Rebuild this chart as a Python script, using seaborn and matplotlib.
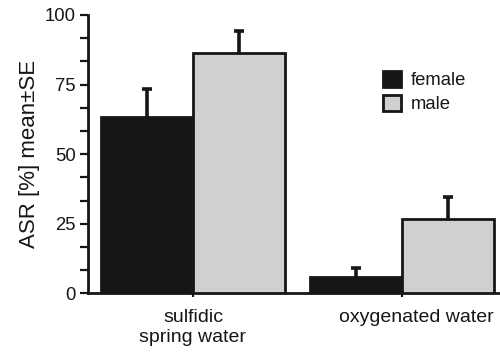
import matplotlib
matplotlib.use("Agg")
import matplotlib.pyplot as plt
import matplotlib.transforms as mtransforms
from matplotlib.patches import Patch
import seaborn as sns
import pandas as pd
import numpy as np

# ---- data ----
conditions = ["sulfidic\nspring water", "oxygenated water"]
sexes = ["female", "male"]
female_mean = [63.5, 5.7]
male_mean = [86.2, 26.7]
female_se = [9.9, 3.5]
male_se = [8.2, 7.8]
yticks_major = [0, 25, 50, 75, 100]

sns.set_style("ticks")
plt.rcParams["font.family"] = ["Liberation Sans", "DejaVu Sans"]

df = pd.DataFrame({
    "condition": conditions * 2,
    "sex": [sexes[0]] * 2 + [sexes[1]] * 2,
    "asr": female_mean + male_mean,
    "se": female_se + male_se,
})

fig = plt.figure(figsize=(5.0, 3.52), dpi=100)
ax = fig.add_axes([0.176, 0.1668, 0.824, 0.7906])

dark = "#161616"
light = "#d0d0d0"
sns.barplot(data=df, x="condition", y="asr", hue="sex", order=conditions,
            hue_order=sexes, palette=[dark, light], width=0.88, gap=0,
            errorbar=None, edgecolor=dark, linewidth=2, ax=ax, legend=False,
            saturation=1, zorder=3)

# error bars (upper only), positioned from the drawn bars
cap_half = 0.024
for i, s in enumerate(sexes):
    for j, c in enumerate(conditions):
        p = ax.containers[i][j]
        xc = p.get_x() + p.get_width() / 2
        h = p.get_height()
        se = df[(df.sex == s) & (df.condition == c)]["se"].iloc[0]
        ax.vlines(xc, h, h + se, color=dark, linewidth=2.6, zorder=2)
        ax.hlines(h + se, xc - cap_half, xc + cap_half, color=dark,
                  linewidth=2.6, zorder=2)

ax.set_ylim(0, 100)
ax.set_xlim(-0.502, 1.469)
ax.set_yticks(yticks_major)
ax.set_yticks([v for v in np.arange(0, 101, 25 / 3)], minor=True)
ax.tick_params(axis="y", which="both", direction="out", length=6, width=1.6,
               labelsize=13.3, colors=dark, pad=3)
ax.tick_params(axis="x", which="major", direction="out", length=3, width=1.6,
               labelsize=14, colors=dark, pad=8)
ax.set_xlabel("")
ax.set_ylabel("ASR [%] mean±SE", fontsize=16, color=dark, labelpad=3)

for sp in ["top", "right"]:
    ax.spines[sp].set_visible(False)
for sp in ["left", "bottom"]:
    ax.spines[sp].set_linewidth(2)
    ax.spines[sp].set_color(dark)

lbls = ax.get_xticklabels()
for l in lbls:
    l.set_linespacing(1.3)
offset = mtransforms.ScaledTranslation(14 / 100, 0, fig.dpi_scale_trans)
lbls[1].set_transform(lbls[1].get_transform() + offset)

handles = [Patch(facecolor=dark, edgecolor=dark, linewidth=2),
           Patch(facecolor=light, edgecolor=dark, linewidth=2)]
leg = ax.legend(handles, sexes, loc="upper left", bbox_to_anchor=(0.716, 0.80),
                frameon=False, fontsize=13.3, handlelength=1.0, handleheight=1.0,
                handletextpad=0.5, labelspacing=0.3, borderaxespad=0,
                borderpad=0)
for t in leg.get_texts():
    t.set_color(dark)

fig.savefig("out.png", dpi=100)
